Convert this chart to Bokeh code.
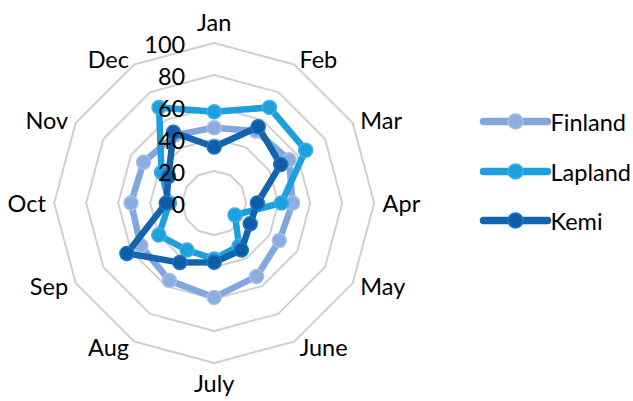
import math
from bokeh.plotting import figure
from bokeh.models import Range1d
from bokeh.core.properties import value
from bokeh.embed import file_html
from bokeh.resources import INLINE

months = ["Jan", "Feb", "Mar", "Apr", "May", "June", "July", "Aug", "Sep", "Oct", "Nov", "Dec"]
finland = [47, 52, 54, 49, 47, 53, 59, 56, 53, 52, 51, 49]
lapland = [57, 69, 66, 42, 15, 31, 35, 34, 40, 28, 38, 69]
kemi = [35, 55, 48, 27, 26, 34, 37, 43, 63, 30, 33, 51]
series_names = ["Finland", "Lapland", "Kemi"]
radial_ticks = [0, 20, 40, 60, 80, 100]

line_colors = ["#82A7DE", "#1D9EDD", "#1363AD"]
fill_colors = ["#8BADE0", "#1FA0DE", "#0F5CA8"]
edge_colors = ["#A5BEE8", "#3CB0E8", "#1C76C4"]

W, H = 633, 401
CX, CY = 213.7, 202.5
SCALE = 1.6  # px per unit
FONT = "Lato"
FS = "23.5px"

p = figure(width=W, height=H, output_backend="svg", toolbar_location=None,
           x_range=Range1d(0, W), y_range=Range1d(H, 0), min_border=0)
p.axis.visible = False
p.grid.visible = False
p.outline_line_color = None
p.background_fill_color = "white"

n = len(months)
angles = [2 * math.pi * i / n for i in range(n)]


def pos(v, a):
    r = v * SCALE
    return CX + r * math.sin(a), CY - r * math.cos(a)


# grid rings
for t in radial_ticks[1:]:
    xs = [pos(t, a)[0] for a in angles] + [pos(t, angles[0])[0]]
    ys = [pos(t, a)[1] for a in angles] + [pos(t, angles[0])[1]]
    p.line(xs, ys, line_color="#D0D0D0", line_width=2)

# series
for name, vals, lc, fc, ec in zip(series_names, [finland, lapland, kemi], line_colors, fill_colors, edge_colors):
    pts = [pos(v, a) for v, a in zip(vals, angles)]
    xs = [q[0] for q in pts]
    ys = [q[1] for q in pts]
    p.line(xs + [xs[0]], ys + [ys[0]], line_color=lc, line_width=6.5,
           line_join="round", line_cap="round")
    p.scatter(xs, ys, size=14, fill_color=fc, line_color=ec, line_width=1.5)

# radial tick labels
p.text(x=[CX - 29] * len(radial_ticks), y=[pos(t, 0)[1] + 1 for t in radial_ticks],
       text=[str(t) for t in radial_ticks], text_font=value(FONT), text_font_size=FS,
       text_align="right", text_baseline="middle", text_color="#000000")

# category labels
for m, a in zip(months, angles):
    s = math.sin(a)
    if abs(s) < 1e-6:
        x, y = pos(100, a)
        y = y - 21 if math.cos(a) > 0 else y + 20
        align = "center"
    else:
        x, y = pos(104, a)
        if s > 0:
            x += 2
            align = "left"
        else:
            x -= 2
            align = "right"
    p.text(x=[x], y=[y], text=[m], text_font=value(FONT), text_font_size=FS,
           text_align=align, text_baseline="middle", text_color="#000000")

# legend
LX0, LX1 = 483, 547
LY = [121, 171, 220]
for name, ly, lc, fc, ec in zip(series_names, LY, line_colors, fill_colors, edge_colors):
    p.line([LX0, LX1], [ly, ly], line_color=lc, line_width=7.5, line_cap="round")
    p.scatter([(LX0 + LX1) / 2], [ly], size=15, fill_color=fc, line_color=ec, line_width=1.5)
    p.text(x=[LX1 + 3], y=[ly], text=[name], text_font=value(FONT), text_font_size=FS,
           text_align="left", text_baseline="middle", text_color="#000000")

open("out.html", "w").write(file_html(p, INLINE))
